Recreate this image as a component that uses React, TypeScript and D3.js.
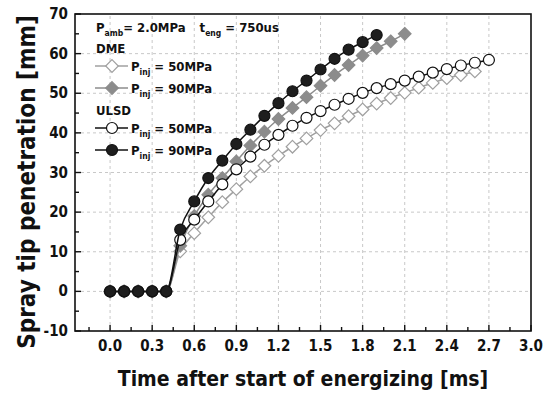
import * as d3 from "d3";

const W = 553;
const H = 395;
const margin = { top: 14, right: 22, bottom: 64, left: 75 };

// time after start of energizing [ms]
const times = [0, 0.1, 0.2, 0.3, 0.4, 0.5, 0.6, 0.7, 0.8, 0.9, 1.0, 1.1, 1.2, 1.3, 1.4, 1.5, 1.6, 1.7, 1.8, 1.9, 2.0, 2.1, 2.2, 2.3, 2.4, 2.5, 2.6, 2.7];

// spray tip penetration [mm]
const dme50 = [0, 0, 0, 0, 0, 10.1, 14.7, 18.7, 22.5, 25.8, 29.0, 31.7, 34.2, 36.5, 38.6, 40.7, 42.4, 44.2, 45.9, 47.4, 48.8, 50.1, 51.4, 52.6, 53.8, 54.6, 55.5];
const dme90 = [0, 0, 0, 0, 0, 11.5, 19.0, 24.4, 28.6, 32.8, 36.8, 40.3, 43.5, 46.3, 49.0, 51.9, 54.6, 57.1, 59.5, 61.4, 63.1, 65.0];
const ulsd50 = [0, 0, 0, 0, 0, 13.0, 18.1, 22.7, 27.0, 30.8, 34.0, 37.0, 39.5, 41.8, 43.8, 45.5, 47.1, 48.6, 50.1, 51.3, 52.3, 53.2, 54.2, 55.2, 56.1, 57.0, 57.7, 58.4];
const ulsd90 = [0, 0, 0, 0, 0, 15.6, 22.7, 28.6, 33.0, 37.2, 40.8, 44.3, 47.5, 50.5, 53.2, 56.0, 58.7, 61.0, 62.9, 64.7];

const xTicks = [0, 0.3, 0.6, 0.9, 1.2, 1.5, 1.8, 2.1, 2.4, 2.7, 3.0];
const yTicks = [-10, 0, 10, 20, 30, 40, 50, 60, 70];

type Series = { key: string; values: number[]; line: string; shape: "diamond" | "circle"; fill: string; stroke: string };

const series: Series[] = [
  { key: "dme50", values: dme50, line: "#a0a0a0", shape: "diamond", fill: "#fff", stroke: "#a0a0a0" },
  { key: "dme90", values: dme90, line: "#8c8c8c", shape: "diamond", fill: "#8c8c8c", stroke: "#8c8c8c" },
  { key: "ulsd50", values: ulsd50, line: "#111", shape: "circle", fill: "#fff", stroke: "#111" },
  { key: "ulsd90", values: ulsd90, line: "#111", shape: "circle", fill: "#1e1e1e", stroke: "#111" },
];

const font = "'DejaVu Sans Condensed', 'DejaVu Sans', Verdana, sans-serif";

function Marker({ s, cx, cy }: { s: Series; cx: number; cy: number }) {
  if (s.shape === "circle") {
    return <circle cx={cx} cy={cy} r={5.5} fill={s.fill} stroke={s.stroke} strokeWidth={1.2} />;
  }
  const r = 6.3;
  return (
    <path
      d={`M${cx},${cy - r}L${cx + r},${cy}L${cx},${cy + r}L${cx - r},${cy}Z`}
      fill={s.fill}
      stroke={s.stroke}
      strokeWidth={1.2}
    />
  );
}

function Pinj({ x, y, value }: { x: number; y: number; value: string }) {
  return (
    <text x={x} y={y} fontFamily={font} fontWeight="bold" fontSize={13}>
      P<tspan fontSize={8.5} dy={4}>inj</tspan>
      <tspan dy={-4}>{` = ${value}`}</tspan>
    </text>
  );
}

export default function App() {
  const x = d3.scaleLinear().domain([-0.25, 3.0]).range([margin.left, W - margin.right]);
  const y = d3.scaleLinear().domain([-10, 70]).range([H - margin.bottom, margin.top]);

  const x0 = x.range()[0];
  const x1 = x.range()[1];
  const y0 = y.range()[0];
  const y1 = y.range()[1];

  const line = d3
    .line<number>()
    .x((_, i) => x(times[i]))
    .y((d) => y(d))
    .curve(d3.curveMonotoneX);

  const xMinor = d3.range(-0.15, 3.0, 0.15).filter((v) => Math.abs(Math.round(v / 0.3) * 0.3 - v) > 0.01);
  const yMinor = d3.range(-5, 70, 10);

  const legendRows = [
    { s: series[0], value: "50MPa", y: 66 },
    { s: series[1], value: "90MPa", y: 88 },
    { s: series[2], value: "50MPa", y: 128 },
    { s: series[3], value: "90MPa", y: 150 },
  ];

  return (
    <svg width={W} height={H} style={{ position: "absolute", left: 0, top: 0, background: "#fff" }}>
      {/* grid */}
      <g stroke="#c8c8c8" strokeWidth={1} strokeDasharray="3,3">
        {xTicks.filter((t) => t < 3.0).map((t) => (
          <line key={`gx${t}`} x1={x(t)} x2={x(t)} y1={y0} y2={y1} />
        ))}
        {yTicks.filter((t) => t > -10 && t < 70).map((t) => (
          <line key={`gy${t}`} x1={x0} x2={x1} y1={y(t)} y2={y(t)} />
        ))}
      </g>

      {/* series */}
      {series.map((s) => (
        <g key={s.key}>
          <path d={line(s.values) ?? ""} fill="none" stroke={s.line} strokeWidth={1.5} />
          {s.values.map((v, i) => (
            <Marker key={i} s={s} cx={x(times[i])} cy={y(v)} />
          ))}
        </g>
      ))}

      {/* frame and ticks */}
      <rect x={x0} y={y1} width={x1 - x0} height={y0 - y1} fill="none" stroke="#111" strokeWidth={1.6} />
      <g stroke="#111" strokeWidth={1.4}>
        {xTicks.map((t) => (
          <line key={`tx${t}`} x1={x(t)} x2={x(t)} y1={y0} y2={y0 - 6} />
        ))}
        {xMinor.map((t) => (
          <line key={`mx${t}`} x1={x(t)} x2={x(t)} y1={y0} y2={y0 - 4} />
        ))}
        {yTicks.map((t) => (
          <line key={`ty${t}`} x1={x0} x2={x0 + 6} y1={y(t)} y2={y(t)} />
        ))}
        {yMinor.map((t) => (
          <line key={`my${t}`} x1={x0} x2={x0 + 4} y1={y(t)} y2={y(t)} />
        ))}
      </g>

      {/* tick labels */}
      <g fontFamily={font} fontWeight="bold" fontSize={15} fill="#111">
        {xTicks.map((t) => (
          <text key={`lx${t}`} x={x(t)} y={y0 + 20} textAnchor="middle">
            {d3.format(".1f")(t)}
          </text>
        ))}
        {yTicks.map((t) => (
          <text key={`ly${t}`} x={x0 - 7} y={y(t) + 5} textAnchor="end">
            {t}
          </text>
        ))}
      </g>

      {/* axis titles */}
      <text
        x={(x0 + x1) / 2}
        y={H - 9}
        textAnchor="middle"
        fontFamily={font}
        fontWeight="bold"
        fontSize={21}
        fill="#111"
      >
        Time after start of energizing [ms]
      </text>
      <text
        transform={`translate(35,182) rotate(-90)`}
        textAnchor="middle"
        fontFamily={font}
        fontWeight="bold"
        fontSize={24}
        fill="#111"
      >
        Spray tip penetration [mm]
      </text>

      {/* legend */}
      <g fill="#111">
        <text x={96} y={32} fontFamily={font} fontWeight="bold" fontSize={13}>
          P<tspan fontSize={8.5} dy={4}>amb</tspan>
          <tspan dy={-4}>= 2.0MPa</tspan>
          <tspan dx={14}>t</tspan>
          <tspan fontSize={8.5} dy={4}>eng</tspan>
          <tspan dy={-4}> = 750us</tspan>
        </text>
        <text x={96} y={53} fontFamily={font} fontWeight="bold" fontSize={13}>DME</text>
        <text x={96} y={115} fontFamily={font} fontWeight="bold" fontSize={13}>ULSD</text>
        {legendRows.map((r) => (
          <g key={r.s.key}>
            <line x1={95} x2={128} y1={r.y} y2={r.y} stroke={r.s.line} strokeWidth={1.5} />
            <Marker s={r.s} cx={112} cy={r.y} />
            <Pinj x={131} y={r.y + 5} value={r.value} />
          </g>
        ))}
      </g>
    </svg>
  );
}
